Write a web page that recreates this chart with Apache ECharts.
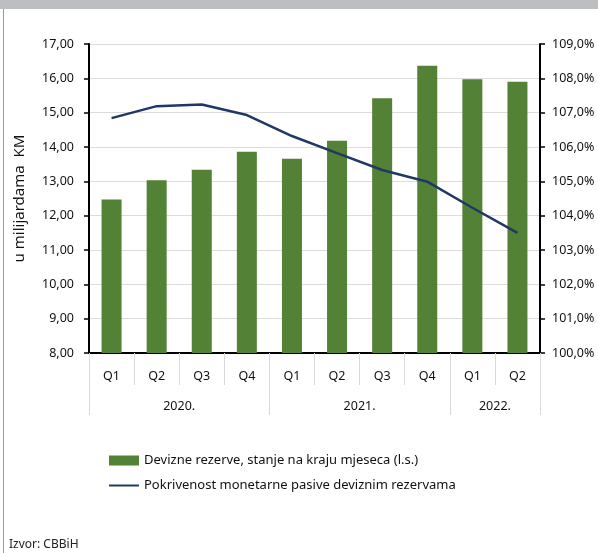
<!DOCTYPE html>
<html>
<head>
<meta charset="utf-8">
<script src="https://cdn.jsdelivr.net/npm/echarts@6/dist/echarts.min.js"></script>
<style>
  html, body { margin: 0; padding: 0; background: #fff; }
  #chart { width: 598px; height: 553px; }
</style>
</head>
<body>
<div id="chart"></div>
<script>
// kvartali i godine
const quarters = ['Q1', 'Q2', 'Q3', 'Q4', 'Q1', 'Q2', 'Q3', 'Q4', 'Q1', 'Q2'];
const years = ['2020.', '2021.', '2022.'];
const yearSizes = [4, 4, 2];

// devizne rezerve, mlrd KM (l.s.)
const reserves = [12.47, 13.03, 13.34, 13.86, 13.66, 14.18, 15.42, 16.37, 15.97, 15.90];
// pokrivenost monetarne pasive, %
const coverage = [106.84, 107.19, 107.24, 106.93, 106.32, 105.82, 105.33, 104.99, 104.23, 103.50];

const FONT = '"Noto Sans", sans-serif';

// granice i sredine grupa godina na osi 0..10
const yearEdges = [0];
const yearMids = [];
yearSizes.forEach((n, i) => {
  yearMids.push(yearEdges[i] + n / 2);
  yearEdges.push(yearEdges[i] + n);
});

const chart = echarts.init(document.getElementById('chart'), null, { renderer: 'canvas' });

chart.setOption({
  animation: false,
  textStyle: { fontFamily: FONT },
  graphic: [
    { type: 'rect', shape: { x: 0, y: 0, width: 598, height: 9 }, style: { fill: '#bdbec2' } },
    { type: 'line', shape: { x1: 3.5, y1: 9, x2: 3.5, y2: 553 }, style: { stroke: '#9a9a9a', lineWidth: 1 } },
    { type: 'text', left: 9, top: 539, style: { text: 'Izvor: CBBiH', fontSize: 12, fill: '#222', fontFamily: FONT } }
  ],
  grid: { left: 89, right: 58, top: 44, bottom: 200 },
  legend: {
    orient: 'vertical',
    left: 103,
    top: 449,
    itemWidth: 30,
    itemHeight: 10,
    itemGap: 12,
    textStyle: { fontSize: 13, color: '#111', fontFamily: FONT },
    data: [
      { name: 'Devizne rezerve, stanje na kraju mjeseca (l.s.)', icon: 'rect' },
      { name: 'Pokrivenost monetarne pasive deviznim rezervama', itemStyle: { opacity: 0 } }
    ]
  },
  xAxis: [
    {
      type: 'category',
      data: quarters,
      position: 'bottom',
      axisLine: { lineStyle: { color: '#000', width: 2 } },
      axisTick: { show: true, interval: 0, length: 32, lineStyle: { color: '#d9d9d9' } },
      axisLabel: { interval: 0, margin: 17, fontSize: 12.5, color: '#111' }
    },
    {
      type: 'value',
      min: 0,
      max: quarters.length,
      position: 'bottom',
      splitLine: { show: false },
      axisLine: { show: false },
      axisTick: { show: true, customValues: yearEdges, length: 62, lineStyle: { color: '#d9d9d9' } },
      axisLabel: {
        customValues: yearMids,
        margin: 47,
        fontSize: 12.5,
        color: '#111',
        formatter: v => years[yearMids.indexOf(v)] || ''
      }
    }
  ],
  yAxis: [
    {
      type: 'value',
      min: 8,
      max: 17,
      interval: 1,
      name: 'u milijardama  KM',
      nameLocation: 'middle',
      nameGap: 62,
      nameTextStyle: { fontSize: 15, color: '#111' },
      axisLine: { show: true, lineStyle: { color: '#000', width: 2 } },
      axisTick: { show: true, length: 5, lineStyle: { color: '#000', width: 1.5 } },
      axisLabel: { fontSize: 12.5, color: '#111', margin: 15, formatter: v => v.toFixed(2).replace('.', ',') },
      splitLine: { lineStyle: { color: '#dcdcdc', width: 1 } }
    },
    {
      type: 'value',
      min: 100,
      max: 109,
      interval: 1,
      position: 'right',
      axisLine: { show: true, lineStyle: { color: '#000', width: 2 } },
      axisTick: { show: true, length: 5, lineStyle: { color: '#000', width: 1.5 } },
      axisLabel: { fontSize: 12.5, color: '#111', margin: 12, formatter: v => v.toFixed(1).replace('.', ',') + '%' },
      splitLine: { show: false }
    }
  ],
  series: [
    {
      name: 'Devizne rezerve, stanje na kraju mjeseca (l.s.)',
      type: 'bar',
      data: reserves,
      barWidth: 20,
      itemStyle: { color: '#538135' }
    },
    {
      name: 'Pokrivenost monetarne pasive deviznim rezervama',
      type: 'line',
      yAxisIndex: 1,
      data: coverage,
      symbol: 'none',
      lineStyle: { color: '#1f3864', width: 2.5 },
      itemStyle: { color: '#1f3864' }
    }
  ]
});
</script>
</body>
</html>
